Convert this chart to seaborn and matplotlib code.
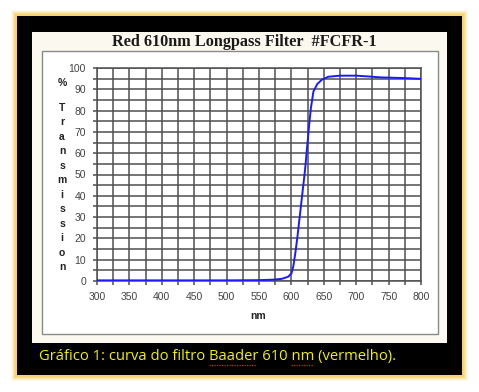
import matplotlib
matplotlib.use("Agg")
import matplotlib.pyplot as plt
import matplotlib.transforms as mtransforms
from matplotlib.patches import Rectangle
from matplotlib.lines import Line2D
from matplotlib.ticker import MultipleLocator
import seaborn as sns
import pandas as pd

# ---- data ----
wavelength_nm = [300, 400, 500, 550, 570, 585, 595, 600, 603, 606, 609, 612, 615, 618,
                 621, 624, 627, 630, 634, 640, 647, 657, 675, 700, 720, 737, 760, 780, 800]
transmission = [0.3, 0.3, 0.3, 0.4, 0.6, 1.0, 2.0, 3.5, 7, 13, 20, 28, 36, 44,
                52, 62, 72, 81, 89, 92.5, 94.5, 95.9, 96.4, 96.4, 96.0, 95.6, 95.4, 95.2, 94.9]
x_ticks = [300, 350, 400, 450, 500, 550, 600, 650, 700, 750, 800]
y_ticks = [0, 10, 20, 30, 40, 50, 60, 70, 80, 90, 100]
title = "Red 610nm Longpass Filter  #FCFR-1"
ylabel_letters = ["T", "r", "a", "n", "s", "m", "i", "s", "s", "i", "o", "n"]
xlabel = "nm"
caption = "Gráfico 1: curva do filtro Baader 610 nm (vermelho)."

df = pd.DataFrame({"nm": wavelength_nm, "T": transmission})

sns.set_theme(style="white")
plt.rcParams["font.family"] = ["Liberation Sans", "DejaVu Sans"]

W, H = 479, 392
fig = plt.figure(figsize=(W / 100, H / 100), dpi=100)
fig.patch.set_facecolor("white")
PX = mtransforms.Affine2D().scale(1 / W, -1 / H).translate(0, 1) + fig.transFigure

def rect(x0, y0, x1, y1, **kw):
    fig.add_artist(Rectangle((x0, y1), x1 - x0, y0 - y1, transform=PX, zorder=-5, **kw))

# yellow glow
for i, a in enumerate([0.10, 0.16, 0.24, 0.34, 0.46]):
    d = 6 - i
    rect(17 - d, 16 - d, 462 + d, 375 + d, facecolor="#f7c94a", edgecolor="none", alpha=a)
# black frame
rect(17, 16, 462, 375, facecolor="black", edgecolor="none")
# cream panel
rect(32, 32, 447, 343, facecolor="#fbf8ef", edgecolor="none")
# inner white chart area
rect(42, 51, 438, 334, facecolor="white", edgecolor="#8a8a8a", linewidth=1.0)

ax = fig.add_axes([97 / W, 1 - 281 / H, 324 / W, 213 / H])
ax.set_zorder(10)
ax.set_facecolor("white")
sns.lineplot(data=df, x="nm", y="T", ax=ax, color="#1a1aff", linewidth=1.4, zorder=5)

ax.set_xlim(300, 800)
ax.set_ylim(0, 100)
ax.set_xticks(x_ticks)
ax.set_yticks(y_ticks)
ax.xaxis.set_minor_locator(MultipleLocator(25))
ax.yaxis.set_minor_locator(MultipleLocator(5))
ax.grid(True, which="both", color="#505050", linewidth=1.1)
ax.set_axisbelow(True)
for s in ax.spines.values():
    s.set_color("#505050")
    s.set_linewidth(1.1)
ax.tick_params(which="both", direction="out", length=3, width=1.1, color="#505050",
               labelsize=7.5, labelcolor="#444444", pad=5, bottom=True, left=True)
ax.set_xlabel("")
ax.set_ylabel("")

# title
fig.text(244, 42, title, transform=PX, ha="center", va="center",
         family=["Liberation Serif", "DejaVu Serif"], fontweight="bold", fontsize=11.7,
         color="#1a1a1a")
# x label
fig.text(258, 316, xlabel, transform=PX, ha="center", va="center",
         fontweight="bold", fontsize=7.5, color="#222222")
# stacked y label
fig.text(62, 83, "%", transform=PX, ha="center", va="center",
         fontweight="bold", fontsize=7.5, color="#222222")
step = (267 - 108) / (len(ylabel_letters) - 1)
for i, ch in enumerate(ylabel_letters):
    fig.text(62, 108 + i * step, ch, transform=PX, ha="center", va="center",
             fontweight="bold", fontsize=7.5, color="#222222")

# caption
fig.text(39, 357, caption, transform=PX, ha="left", va="center",
         family=["Open Sans", "DejaVu Sans"], fontsize=10.6, color="#f2f200")
# spell-check underlines
for x0, x1 in [(209, 256), (291, 313)]:
    fig.add_artist(Line2D([x0, x1], [365, 365], transform=PX, color="#e02020",
                          linewidth=0.9, linestyle=(0, (1, 1))))

fig.savefig("out.png", dpi=100, facecolor="white")
